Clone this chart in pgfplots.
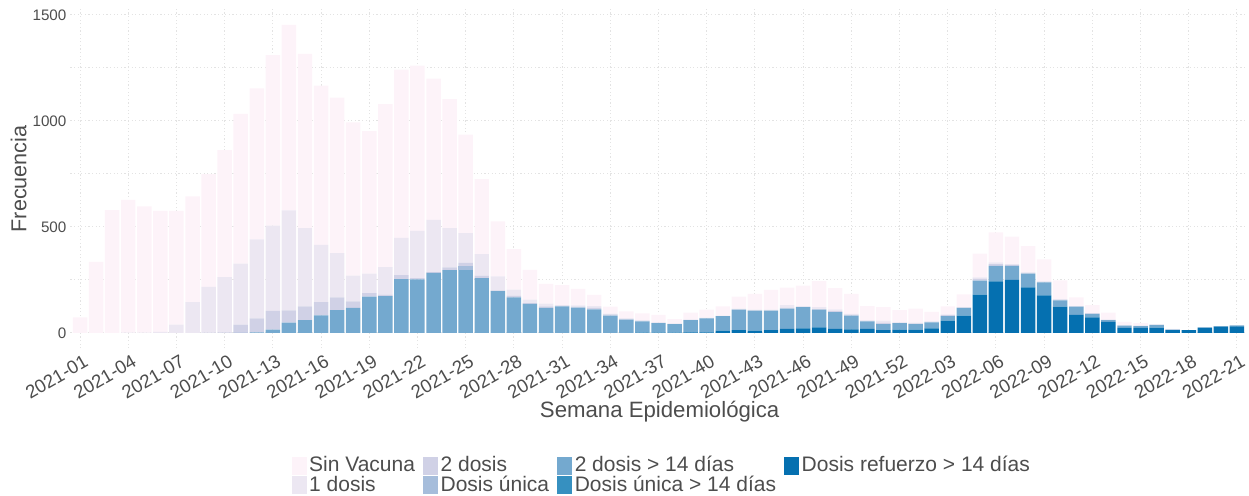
\documentclass[border=0pt]{standalone}
\usepackage{pgfplots}
\pgfplotsset{compat=1.18}
\usepackage{pgfplotstable}
\usepackage{fontspec}
\setmainfont{Liberation Sans}
\definecolor{cS}{HTML}{FDF3F9}
\definecolor{cDa}{HTML}{ECE7F2}
\definecolor{cDb}{HTML}{D0D1E6}
\definecolor{cU}{HTML}{A6BDDB}
\definecolor{cDc}{HTML}{74A9CF}
\definecolor{cUc}{HTML}{3690C0}
\definecolor{cR}{HTML}{0570B0}
\definecolor{txt}{HTML}{4D4D4D}
\definecolor{gridc}{HTML}{E3E3E3}
\pgfplotstableread{
x R U14 D14 U D2 D1 S
0 0 0 0 0 0 0 74
1 0 0 0 0 0 0 336
2 0 0 0 0 0 0 580
3 0 0 0 0 0 2 626
4 0 0 0 0 0 2 595
5 0 0 0 0 0 5 571
6 0 0 0 0 0 39 537
7 0 0 0 0 0 146 498
8 0 0 0 0 2 216 531
9 0 0 0 0 3 261 598
10 0 0 1 0 38 288 706
11 0 0 3 0 66 372 713
12 0 0 16 0 88 402 805
13 0 0 49 0 58 471 875
14 0 0 61 0 65 369 821
15 0 0 83 0 63 270 751
16 0 0 108 0 60 209 733
17 0 0 118 0 31 121 723
18 0 0 171 0 17 92 672
19 0 0 174 0 7 130 768
20 0 0 254 0 19 176 793
21 0 0 253 0 6 223 779
22 0 0 283 0 4 247 666
23 0 0 297 0 12 186 608
24 0 0 297 17 17 140 465
25 0 0 259 0 11 102 354
26 0 0 198 0 3 66 259
27 0 0 168 0 8 28 192
28 0 0 137 0 4 16 141
29 0 0 118 0 8 12 94
30 0 0 126 0 2 4 94
31 0 0 120 0 4 6 78
32 0 0 112 0 8 7 53
33 0 0 82 0 6 3 33
34 0 0 63 0 4 2 33
35 2 0 53 0 3 2 33
36 2 0 44 0 2 2 36
37 2 0 40 0 1 1 22
38 3 0 58 0 1 1 33
39 3 0 66 0 1 2 38
40 11 0 68 0 1 2 44
41 13 0 97 0 2 3 56
42 11 0 94 0 2 3 75
43 14 0 91 0 2 3 93
44 19 0 96 0 3 14 82
45 22 0 100 0 2 2 97
46 27 0 83 0 3 9 123
47 20 0 79 0 4 9 100
48 17 0 65 0 4 4 94
49 20 0 35 0 2 3 67
50 14 0 28 0 6 10 64
51 16 0 30 0 2 2 58
52 16 0 26 0 3 4 66
53 22 0 28 0 2 3 45
54 58 0 22 0 4 4 38
55 82 0 36 0 2 2 60
56 181 0 66 0 8 7 112
57 243 0 73 0 9 8 141
58 250 0 67 0 4 4 129
59 215 0 65 0 3 3 124
60 177 0 62 0 2 2 104
61 124 0 30 0 3 3 88
62 85 0 39 0 1 2 41
63 74 0 16 0 2 1 39
64 52 0 9 0 1 1 33
65 24 0 11 0 1 0 17
66 24 0 9 0 1 1 12
67 25 0 13 0 0 1 2
68 14 0 2 0 1 0 2
69 13 0 0 0 0 0 1
70 24 0 3 0 0 0 0
71 30 0 3 0 0 0 0
72 31 0 5 0 0 0 0
}\datatable
\begin{document}
\begin{tikzpicture}
\useasboundingbox (-35.2pt,-73.8pt) rectangle (589.3pt,174.2pt);
\begin{axis}[
  scale only axis,
  width=588.1pt, height=169.45pt,
  ybar stacked, bar width=0.9,
  xmin=-0.6, xmax=72.6,
  ymin=-72.6, ymax=1525.7,
  xtick={0,3,...,72},
  xticklabels={2021-01,2021-04,2021-07,2021-10,2021-13,2021-16,2021-19,2021-22,2021-25,2021-28,2021-31,2021-34,2021-37,2021-40,2021-43,2021-46,2021-49,2021-52,2022-03,2022-06,2022-09,2022-12,2022-15,2022-18,2022-21},
  ytick={0,500,1000,1500},
  yticklabels={0,500,1000,1500},
  minor ytick={250,750,1250},
  xmajorgrids, ymajorgrids, yminorgrids,
  major grid style={draw=gridc, line width=0.5pt, dash pattern=on 0.6pt off 1.2pt},
  minor grid style={draw=gridc, line width=0.5pt, dash pattern=on 0.6pt off 1.2pt},
  axis line style={draw=none},
  major tick length=0pt, minor tick length=0pt,
  xticklabel style={font=\fontsize{9.3}{9.3}\selectfont, text=txt, rotate=30, anchor=north east, inner sep=0pt, yshift=-3pt},
  yticklabel style={font=\fontsize{7.6}{8}\selectfont, text=txt, anchor=east, inner sep=0pt, xshift=-1.8pt},
  xlabel={Semana Epidemiológica},
  ylabel={Frecuencia},
  xlabel style={font=\fontsize{11.1}{11.1}\selectfont, text=txt, at={(axis description cs:0.501,0)}, anchor=center, yshift=-31.8pt},
  ylabel style={font=\fontsize{10.8}{10.8}\selectfont, text=txt, at={(axis description cs:-0.0440,0.5)}, anchor=center},
  legend columns=4,
  legend cell align=left,
  legend image code/.code={\fill[#1] (0pt,-4.5pt) rectangle (7.5pt,4.5pt);},
  legend style={draw=none, fill=none, at={(axis description cs:0.503,0)}, anchor=north, yshift=-53.0pt,
    font=\fontsize{10.5}{10.5}\selectfont, text=txt, inner sep=0pt, row sep=-1.6pt,
    nodes={inner sep=1.2pt, text height=7.3pt, text depth=1.6pt},
    /tikz/every even column/.append style={column sep=2.9pt}},
]
\addplot[fill=cR, draw=none, forget plot] table[x=x, y=R] {\datatable};
\addplot[fill=cUc, draw=none, forget plot] table[x=x, y=U14] {\datatable};
\addplot[fill=cDc, draw=none, forget plot] table[x=x, y=D14] {\datatable};
\addplot[fill=cU, draw=none, forget plot] table[x=x, y=U] {\datatable};
\addplot[fill=cDb, draw=none, forget plot] table[x=x, y=D2] {\datatable};
\addplot[fill=cDa, draw=none, forget plot] table[x=x, y=D1] {\datatable};
\addplot[fill=cS, draw=none, forget plot] table[x=x, y=S] {\datatable};
\addlegendimage{fill=cS, draw=none}
\addlegendentry{Sin Vacuna}
\addlegendimage{fill=cDb, draw=none}
\addlegendentry{2 dosis}
\addlegendimage{fill=cDc, draw=none}
\addlegendentry{2 dosis > 14 días}
\addlegendimage{fill=cR, draw=none}
\addlegendentry{Dosis refuerzo > 14 días}
\addlegendimage{fill=cDa, draw=none}
\addlegendentry{1 dosis}
\addlegendimage{fill=cU, draw=none}
\addlegendentry{Dosis única}
\addlegendimage{fill=cUc, draw=none}
\addlegendentry{Dosis única > 14 días}
\end{axis}
\end{tikzpicture}
\end{document}
